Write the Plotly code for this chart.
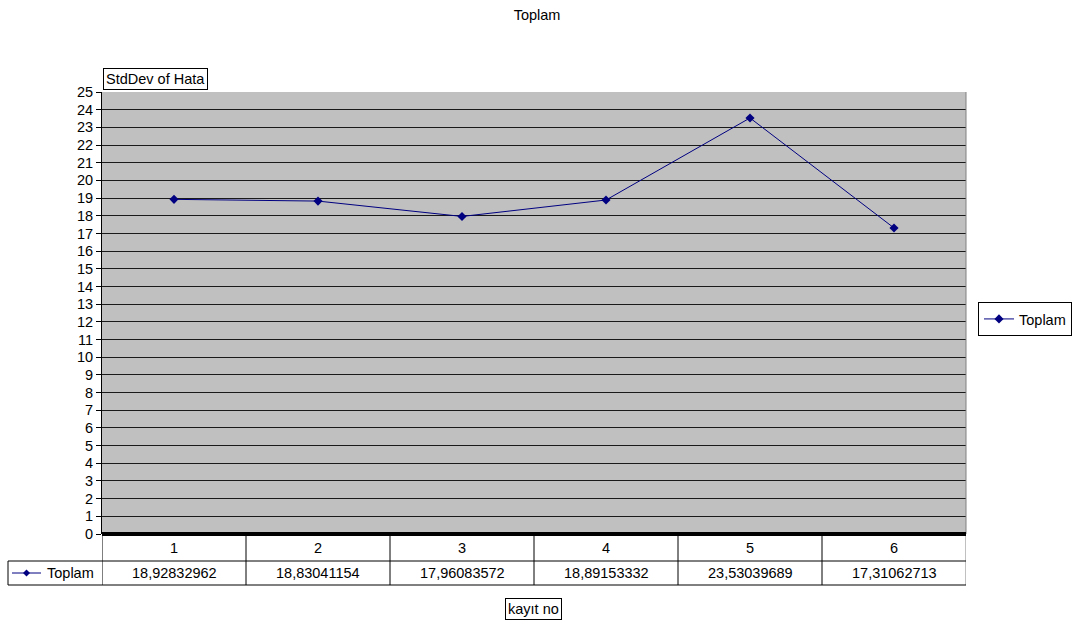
import plotly.graph_objects as go

categories = [1, 2, 3, 4, 5, 6]
toplam = [18.92832962, 18.83041154, 17.96083572, 18.89153332, 23.53039689, 17.31062713]
series_name = "Toplam"
chart_title = "Toplam"
y_title = "StdDev of Hata"
x_title = "kayıt no"

W, H = 1077, 621
L, R, T, B = 102, 111, 92, 87
PW, PH = W - L - R, H - T - B
FONT = "Liberation Sans, Arial, sans-serif"
FS = 14.5
NAVY = "#000080"


def px(x):
    return (x - L) / PW


def py(y):
    return (H - B - y) / PH


fig = go.Figure()
fig.add_trace(go.Scatter(
    x=categories, y=toplam, name=series_name, mode="lines+markers",
    line=dict(color=NAVY, width=1),
    marker=dict(symbol="diamond", size=7, color=NAVY),
))

shapes = []
annotations = []

# right border of plot area
shapes.append(dict(type="line", xref="paper", yref="paper", x0=1, x1=1, y0=0, y1=1,
                   line=dict(color="#808080", width=1)))

# data table
row1_bot = py(561)
row2_bot = py(585)
n = len(categories)
for i in range(n + 1):
    xv = categories[0] - 0.5 + i
    shapes.append(dict(type="line", xref="x", yref="paper", x0=xv, x1=xv, y0=0, y1=row2_bot,
                       line=dict(color="black" if i < n else "#808080", width=1)))
for yv in (row1_bot, row2_bot):
    shapes.append(dict(type="line", xref="paper", yref="paper", x0=px(8), x1=1, y0=yv, y1=yv,
                       line=dict(color="black", width=1)))
shapes.append(dict(type="line", xref="paper", yref="paper", x0=px(8), x1=px(8), y0=row1_bot, y1=row2_bot,
                   line=dict(color="black", width=1)))

# thick category axis line at zero
shapes.append(dict(type="line", xref="paper", yref="paper", x0=0, x1=1, y0=0, y1=0,
                   line=dict(color="black", width=4), layer="above"))

for c, v in zip(categories, toplam):
    annotations.append(dict(x=c, y=py(548), xref="x", yref="paper", text=str(c), showarrow=False,
                            xanchor="center", yanchor="middle",
                            font=dict(family=FONT, size=FS, color="black")))
    annotations.append(dict(x=c, y=py(573), xref="x", yref="paper",
                            text=f"{v:.8f}".replace(".", ","), showarrow=False,
                            xanchor="center", yanchor="middle",
                            font=dict(family=FONT, size=FS, color="black")))

# legend key in table
shapes.append(dict(type="line", xref="paper", yref="paper", x0=px(12), x1=px(41), y0=py(573), y1=py(573),
                   line=dict(color=NAVY, width=1)))
cx, cy, d = 26.5, 573, 3.5
shapes.append(dict(type="path", xref="paper", yref="paper",
                   path=f"M {px(cx-d)} {py(cy)} L {px(cx)} {py(cy-d)} L {px(cx+d)} {py(cy)} L {px(cx)} {py(cy+d)} Z",
                   fillcolor=NAVY, line=dict(color=NAVY, width=0)))
annotations.append(dict(x=px(45), y=py(573), xref="paper", yref="paper", text=series_name, showarrow=False,
                        xanchor="left", yanchor="middle", font=dict(family=FONT, size=FS, color="black")))

# axis titles
annotations.append(dict(x=px(103), y=py(90), xref="paper", yref="paper", text=y_title, showarrow=False,
                        xanchor="left", yanchor="bottom", bgcolor="white", bordercolor="black",
                        borderwidth=1, borderpad=2, font=dict(family=FONT, size=FS, color="black")))
annotations.append(dict(x=px(533), y=py(609), xref="paper", yref="paper", text=x_title, showarrow=False,
                        xanchor="center", yanchor="middle", bgcolor="white", bordercolor="black",
                        borderwidth=1, borderpad=2, font=dict(family=FONT, size=FS, color="black")))

fig.update_layout(
    width=W, height=H,
    margin=dict(l=L, r=R, t=T, b=B, pad=0),
    paper_bgcolor="white", plot_bgcolor="#C0C0C0",
    title=dict(text=chart_title, x=537 / W, xanchor="center", y=1 - 15 / H, yanchor="middle",
               font=dict(family=FONT, size=FS, color="black")),
    font=dict(family=FONT, size=FS, color="black"),
    showlegend=True,
    legend=dict(xref="container", yref="container", x=978 / W, y=1 - 302 / H,
                xanchor="left", yanchor="top",
                bordercolor="black", borderwidth=1, bgcolor="white",
                font=dict(family=FONT, size=FS, color="black"),
                itemwidth=30, tracegroupgap=0),
    xaxis=dict(range=[0.5, 6.5], showticklabels=False, showgrid=False, zeroline=False,
               showline=False, ticks="", fixedrange=True),
    yaxis=dict(range=[0, 25], dtick=1, tick0=0, showgrid=True, gridcolor="#1a1a1a", gridwidth=1,
               zeroline=False, showline=True, linecolor="black", linewidth=1,
               ticks="outside", ticklen=5, tickcolor="black",
               tickfont=dict(family=FONT, size=FS, color="black")),
    shapes=shapes, annotations=annotations,
)

fig.write_html("out.html", config={"displayModeBar": False},
               post_script="document.body.style.margin='0';document.body.style.overflow='hidden';")
